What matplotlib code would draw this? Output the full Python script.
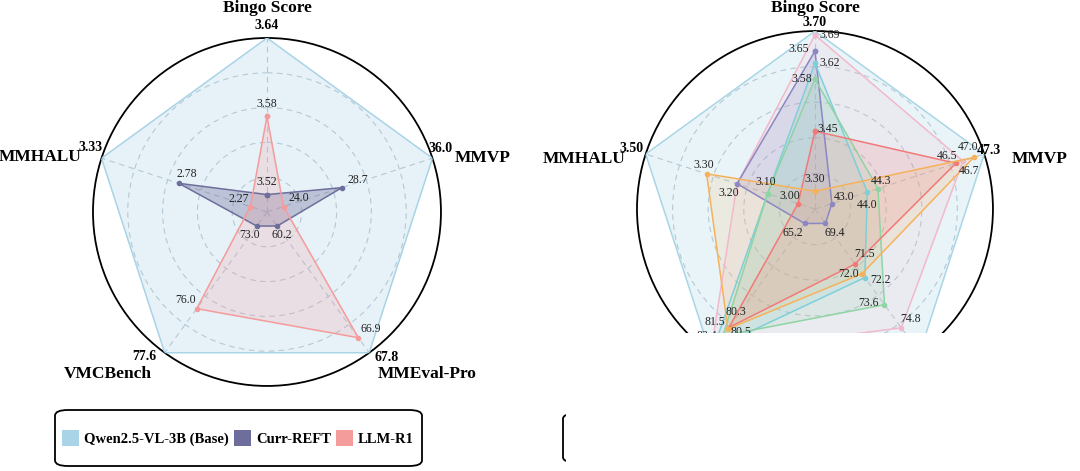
import numpy as np
import matplotlib
matplotlib.use('Agg')
import matplotlib.pyplot as plt
from matplotlib.patches import Rectangle, FancyBboxPatch, Patch

plt.rcParams['font.family'] = ['Liberation Serif', 'DejaVu Serif']

# ---------------- data ----------------
axes_names = ['Bingo Score', 'MMVP', 'MMEval-Pro', 'VMCBench', 'MMHALU']

# left panel (3B)
left_names = ['Qwen2.5-VL-3B (Base)', 'Curr-REFT', 'LLM-R1']
left_base = [3.64, 36.0, 67.8, 77.6, 3.33]
left_curr = [3.52, 28.7, 60.2, 73.0, 2.78]
left_llmr1 = [3.58, 24.0, 66.9, 76.0, 2.27]

# right panel (lower part of the picture is covered)
right_top = [3.70, 47.3, 76.1, 84.0, 3.50]
right_pink = [3.69, 46.7, 74.8, 83.9, 3.20]
right_purple = [3.65, 43.0, 69.4, 65.2, 3.20]
right_cyan = [3.62, 44.0, 72.2, 83.4, 3.10]
right_green = [3.58, 44.3, 73.6, 81.5, 3.10]
right_red = [3.45, 46.5, 71.5, 80.3, 3.00]
right_orange = [3.30, 47.0, 72.0, 80.5, 3.30]

# ---------------- styles ----------------
left_colors = ['#a9d3e6', '#6e6e9c', '#f49b9b']
left_alpha = [0.28, 0.35, 0.22]
right_colors = ['#a9d6e6', '#f2b8cb', '#8c86c2', '#7fcfd8', '#8fd4a2', '#f07a78', '#f6b25a']
right_alpha = [0.25, 0.15, 0.18, 0.15, 0.15, 0.18, 0.15]

# label offsets (pixels) per series / axis
left_offsets = [
    None,
    [(0, 13), (16, 8), (5, -9), (-7, -9), (8, 9)],
    [(0, 12), (15, 9), (12, 9), (-11, 9), (-12, 8)],
]
right_offsets = [
    None,
    [(15, 0), (6, -10), (9, 9), (-8, -16), (-8, -9)],
    [(-16, 2), (12, 7), (9, -10), (-12, -10), (-8, -9)],
    [(15, 0), (0, -13), (16, -2), (-7, 13), (-2, 12)],
    [(-13, 0), (3, 8), (-16, 2), (-8, 14), (-2, 12)],
    [(13, 2), (-9, 7), (10, 10), (7, 16), (-8, 8)],
    [(0, 12), (-5, 10), (-13, 0), (13, -3), (-3, 9)],
]
grid_color = '#b8c4cf'


def normalize(series):
    '''scale every axis to 0.1..1 between min and max of all series'''
    arr = np.array(series, dtype=float)
    lo, hi = arr.min(axis=0), arr.max(axis=0)
    return 0.1 + 0.9 * (arr - lo) / (hi - lo)


def fmt(v, i):
    return '{0:.2f}'.format(v) if i in (0, 4) else '{0:.1f}'.format(v)


def draw_radar(ax, series, colors, alphas, offsets, max_offsets, name_pos):
    angles = np.deg2rad([0, 72, 144, 216, 288])
    ax.set_theta_offset(np.pi / 2)
    ax.set_theta_direction(-1)
    ax.set_ylim(0, 1)
    ax.set_xticks(angles)
    ax.set_xticklabels([])
    ax.set_yticks([0.2, 0.4, 0.6, 0.8])
    ax.set_yticklabels([])
    ax.grid(True, ls=(0, (5, 4)), color=grid_color, lw=0.8)
    ax.spines['polar'].set_color('black')
    ax.spines['polar'].set_linewidth(1.3)
    ax.set_facecolor('none')

    rad = normalize(series)
    closed = np.append(angles, angles[0])
    done = set()
    for idx, (vals, r) in enumerate(zip(series, rad)):
        rr = np.append(r, r[0])
        ax.fill(closed, rr, color=colors[idx], alpha=alphas[idx], lw=0, zorder=2)
        ax.plot(closed, rr, color=colors[idx], lw=1.1, zorder=3,
                marker='o' if idx else None, ms=3)
        if offsets[idx] is None:
            continue
        for i in range(5):
            # same value on the same axis sits on the same point: label it once
            if (i, vals[i]) in done:
                continue
            done.add((i, vals[i]))
            ax.annotate(fmt(vals[i], i), xy=(angles[i], r[i]), xytext=offsets[idx][i],
                        textcoords='offset pixels', ha='center', va='center',
                        fontsize=8.5, color='#222222', zorder=5)
    # bold max labels at outer vertices
    for i in range(5):
        ax.annotate(fmt(series[0][i], i), xy=(angles[i], 1.0), xytext=max_offsets[i],
                    textcoords='offset pixels', ha='center', va='center',
                    fontsize=10, fontweight='bold', zorder=5, annotation_clip=False)
    # axis names
    for i in range(5):
        (dx, dy), ha = name_pos[i]
        ax.annotate(axes_names[i], xy=(angles[i], 1.0), xytext=(dx, dy),
                    textcoords='offset pixels', ha=ha, va='center',
                    fontsize=12.5, fontweight='bold', annotation_clip=False)


fig = plt.figure(figsize=(10.8, 4.71), dpi=100)

ax1 = fig.add_axes([0.0861, 0.1805, 0.3222, 0.7389], projection='polar')
draw_radar(ax1, [left_base, left_curr, left_llmr1], left_colors, left_alpha, left_offsets,
           [(0, 12), (8, 10), (17, -5), (-20, -4), (-11, 11)],
           [((0, 30), 'center'), ((22, 0), 'left'), ((8, -21), 'left'),
            ((-13, -21), 'right'), ((-20, 1), 'right')])

ax2 = fig.add_axes([0.5898, 0.1783, 0.3296, 0.7558], projection='polar')
draw_radar(ax2, [right_top, right_pink, right_purple, right_cyan, right_green, right_red,
                 right_orange],
           right_colors, right_alpha, right_offsets,
           [(0, 9), (5, 4), (17, -5), (-20, -4), (-14, 6)],
           [((0, 23), 'center'), ((27, -5), 'left'), ((8, -21), 'left'),
            ((-13, -21), 'right'), ((-20, -5), 'right')])

# legend of left panel, with its own rounded frame
fig.add_artist(FancyBboxPatch((55 / 1080, 1 - 466 / 471), 367 / 1080, 56 / 471,
                              boxstyle='round,pad=0,rounding_size=0.012',
                              transform=fig.transFigure, facecolor='none',
                              edgecolor='black', lw=1.3, zorder=9))
handles = [Patch(facecolor=c, edgecolor='none') for c in left_colors]
fig.legend(handles, left_names, loc='center', bbox_to_anchor=(0.2204, 0.0701), ncol=3,
           prop={'weight': 'bold', 'size': 10.5}, handlelength=1.15, handleheight=1.35,
           handletextpad=0.35, columnspacing=0.35, frameon=False)

# right legend box, mostly covered in the picture
fig.add_artist(FancyBboxPatch((563 / 1080, 1 - 462 / 471), 420 / 1080, 48 / 471,
                              boxstyle='round,pad=0,rounding_size=0.01',
                              transform=fig.transFigure, facecolor='none',
                              edgecolor='black', lw=1.3, zorder=9))
# covered lower right part
fig.add_artist(Rectangle((566 / 1080, 0), 1 - 566 / 1080, 1 - 333 / 471,
                         transform=fig.transFigure, facecolor='white', edgecolor='none',
                         zorder=10))

fig.savefig('out.png', dpi=100)
